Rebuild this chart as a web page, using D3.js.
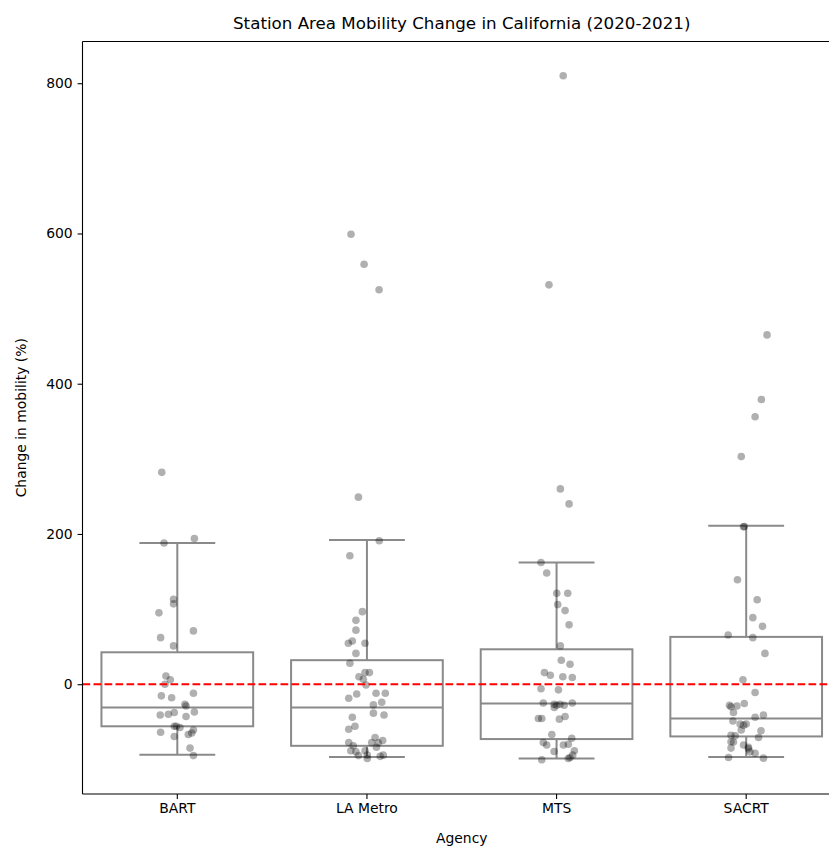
<!DOCTYPE html>
<html>
<head>
<meta charset="utf-8">
<script src="https://cdn.jsdelivr.net/npm/d3@7.9.0/dist/d3.min.js"></script>
<style>
  html, body { margin: 0; padding: 0; background: #fff; overflow: hidden; }
  svg { display: block; font-family: "DejaVu Sans", sans-serif; }
</style>
</head>
<body>
<svg id="chart"></svg>
<script>
// Categories and box statistics
const agencies = ['BART', 'LA Metro', 'MTS', 'SACRT'];
const whiskerLow = [-94, -97, -99, -97];
const q1 = [-56, -82, -73, -69.5];
const median = [-31, -31, -25.6, -45.6];
const q3 = [42.5, 32, 46.5, 63];
const whiskerHigh = [188, 192, 162, 211];

// Station points: [jitter (category units), change %]
const bartPoints = [
  [-0.082, 282], [0.09, 194], [-0.07, 188], [-0.02, 113], [-0.02, 107],
  [-0.097, 95], [0.085, 71], [-0.088, 62], [-0.02, 51], [-0.06, 11],
  [-0.037, 6], [-0.065, 0], [-0.084, -15.5], [-0.03, -18], [0.085, -12],
  [0.04, -26.6], [0.046, -29], [-0.09, -41], [-0.047, -40], [-0.016, -37.6],
  [0.046, -43], [0.09, -37], [-0.016, -56], [0.014, -57.6], [0.085, -61],
  [-0.088, -64], [-0.016, -69.5], [0.058, -67], [0.076, -65], [0.067, -85],
  [0.085, -95], [-0.005, -56]
];
const laMetroPoints = [
  [-0.084, 599], [-0.015, 559], [0.064, 525],
  [-0.045, 249], [0.065, 191], [-0.09, 171], [-0.024, 96.6], [-0.058, 85],
  [-0.058, 72], [-0.077, 57.6], [-0.098, 54.5], [-0.01, 54.5], [-0.058, 41],
  [-0.09, 28], [-0.01, 15.5], [0.013, 15.5], [-0.042, 10], [-0.019, 6.6],
  [-0.005, -1], [-0.054, -13], [-0.096, -18.6], [0.048, -12], [0.097, -12],
  [0.078, -24], [0.034, -27.5], [0.034, -38.5], [0.09, -41], [-0.077, -44],
  [-0.063, -56], [-0.096, -60], [-0.096, -77.5], [-0.072, -82], [-0.085, -88.6],
  [0.043, -71], [0.083, -75], [0.025, -77.5], [0.06, -78], [0.05, -84],
  [-0.045, -95], [-0.01, -88.6], [0.002, -94.4], [0.002, -98.8], [0.086, -94.4],
  [0.07, -96], [-0.058, -90]
];
const mtsPoints = [
  [0.035, 810], [-0.04, 531.6],
  [0.02, 260], [0.066, 240], [-0.082, 162], [-0.052, 148], [0.001, 121],
  [0.059, 121], [0.006, 106], [0.045, 98], [0.066, 79], [0.02, 51],
  [0.025, 32], [0.071, 26.6], [-0.064, 15.5], [-0.033, 12], [0.033, 10],
  [0.083, 9], [-0.082, -6], [0.01, -7.5], [-0.07, -25], [-0.013, -26.6],
  [0.0, -28], [0.018, -26.6], [0.04, -28], [0.083, -25], [-0.012, -31],
  [-0.096, -45.6], [-0.078, -45.6], [0.015, -46.5], [0.045, -43], [-0.025, -67],
  [0.08, -72], [-0.07, -77.5], [-0.052, -81], [0.036, -81], [0.062, -80],
  [0.094, -88.6], [-0.013, -89.5], [0.085, -94.4], [-0.078, -100.6], [0.062, -98.8],
  [0.071, -97.5]
];
const sacrtPoints = [
  [0.11, 465], [0.08, 379], [0.047, 356], [-0.026, 303],
  [-0.014, 209.5], [-0.01, 210], [-0.046, 139], [0.058, 112.5], [0.035, 88.6],
  [0.086, 77], [-0.095, 65.5], [0.035, 62], [0.099, 41], [-0.017, 6],
  [0.047, -11], [-0.01, -25.6], [-0.088, -28], [-0.049, -29], [-0.08, -30],
  [-0.067, -37.6], [0.091, -41], [0.047, -44], [-0.07, -49], [-0.032, -53],
  [-0.014, -54.5], [0.0, -53], [-0.026, -61], [0.078, -62], [0.065, -71],
  [-0.08, -68], [-0.058, -68.7], [-0.08, -76.6], [-0.067, -77], [-0.08, -85],
  [-0.014, -81], [0.012, -86], [0.02, -90], [0.047, -92], [-0.093, -97.5],
  [0.091, -98.4], [0.012, -84]
];
const pointsByAgency = [bartPoints, laMetroPoints, mtsPoints, sacrtPoints];
const yTicks = [0, 200, 400, 600, 800];

const width = 829;
const height = 846;
const marginLeft = 82.5;
const plotRight = 841;     // right spine falls outside the picture
const marginTop = 41.5;
const plotBottom = 794;

const svg = d3.select('#chart')
  .attr('width', width)
  .attr('height', height)
  .attr('viewBox', [0, 0, width, height]);

const x = d3.scaleBand()
  .domain(agencies)
  .range([marginLeft, plotRight])
  .padding(0);

// matplotlib adds 5% margins round the data range
const yMin = -100.6, yMax = 810;
const pad = (yMax - yMin) * 0.05;
const y = d3.scaleLinear()
  .domain([yMin - pad, yMax + pad])
  .range([plotBottom, marginTop]);

const bw = x.bandwidth();
const boxColor = '#8a8a8a';

// Box plots
const boxes = svg.append('g').attr('class', 'boxes');
agencies.forEach((a, i) => {
  const cx = x(a) + bw / 2;
  const half = bw * 0.4;
  const cap = bw * 0.2;
  const g = boxes.append('g')
    .attr('stroke', boxColor)
    .attr('stroke-width', 2)
    .attr('fill', 'none');
  g.append('line').attr('x1', cx).attr('x2', cx).attr('y1', y(q3[i])).attr('y2', y(whiskerHigh[i]));
  g.append('line').attr('x1', cx).attr('x2', cx).attr('y1', y(q1[i])).attr('y2', y(whiskerLow[i]));
  g.append('line').attr('x1', cx - cap).attr('x2', cx + cap).attr('y1', y(whiskerHigh[i])).attr('y2', y(whiskerHigh[i]));
  g.append('line').attr('x1', cx - cap).attr('x2', cx + cap).attr('y1', y(whiskerLow[i])).attr('y2', y(whiskerLow[i]));
  g.append('rect')
    .attr('x', cx - half)
    .attr('width', half * 2)
    .attr('y', y(q3[i]))
    .attr('height', y(q1[i]) - y(q3[i]))
    .attr('fill', '#fff');
  g.append('line').attr('x1', cx - half).attr('x2', cx + half).attr('y1', y(median[i])).attr('y2', y(median[i]));
});

// Strip points
agencies.forEach((a, i) => {
  svg.append('g')
    .selectAll('circle')
    .data(pointsByAgency[i])
    .join('circle')
    .attr('cx', (d) => x(a) + bw / 2 + d[0] * bw)
    .attr('cy', (d) => y(d[1]))
    .attr('r', 3.8)
    .attr('fill', '#000')
    .attr('fill-opacity', 0.31);
});

// Zero reference line
svg.append('line')
  .attr('x1', marginLeft)
  .attr('x2', plotRight)
  .attr('y1', y(0))
  .attr('y2', y(0))
  .attr('stroke', 'red')
  .attr('stroke-width', 2)
  .attr('stroke-dasharray', '7.7 3.3');

// Axes
const xAxis = svg.append('g')
  .attr('transform', `translate(0,${plotBottom})`)
  .call(d3.axisBottom(x).tickSize(4.9).tickPadding(4.5).tickSizeOuter(0));
xAxis.select('.domain').remove();
xAxis.selectAll('text').attr('font-size', 13.9).attr('fill', '#000').attr('font-family', 'DejaVu Sans');
xAxis.selectAll('line').attr('stroke', '#000').attr('stroke-width', 1.1);

const yAxis = svg.append('g')
  .attr('transform', `translate(${marginLeft},0)`)
  .call(d3.axisLeft(y).tickValues(yTicks).tickSize(4.9).tickPadding(4.9));
yAxis.select('.domain').remove();
yAxis.selectAll('text').attr('font-size', 13.9).attr('fill', '#000').attr('font-family', 'DejaVu Sans');
yAxis.selectAll('line').attr('stroke', '#000').attr('stroke-width', 1.1);

// Spines (left, top, bottom; the right one lies off the picture)
const spines = svg.append('g').attr('stroke', '#000').attr('stroke-width', 1.1);
spines.append('line').attr('x1', marginLeft).attr('x2', marginLeft).attr('y1', marginTop).attr('y2', plotBottom);
spines.append('line').attr('x1', marginLeft).attr('x2', width).attr('y1', marginTop).attr('y2', marginTop);
spines.append('line').attr('x1', marginLeft).attr('x2', width).attr('y1', plotBottom).attr('y2', plotBottom);

// Title and axis labels
svg.append('text')
  .attr('x', (marginLeft + plotRight) / 2)
  .attr('y', 29)
  .attr('text-anchor', 'middle')
  .attr('font-size', 16.7)
  .text('Station Area Mobility Change in California (2020-2021)');

svg.append('text')
  .attr('x', (marginLeft + plotRight) / 2)
  .attr('y', 842.5)
  .attr('text-anchor', 'middle')
  .attr('font-size', 13.9)
  .text('Agency');

svg.append('text')
  .attr('transform', `translate(25.5,${(marginTop + plotBottom) / 2}) rotate(-90)`)
  .attr('text-anchor', 'middle')
  .attr('font-size', 13.9)
  .text('Change in mobility (%)');
</script>
</body>
</html>
